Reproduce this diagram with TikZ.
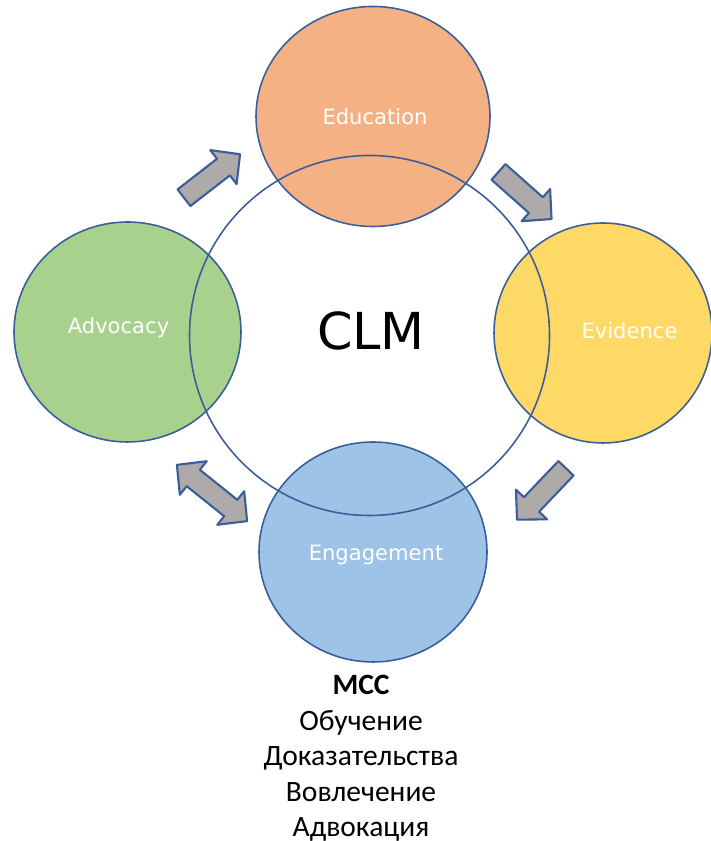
\documentclass[tikz,border=0pt]{standalone}
\usepackage{fontspec}
\setmainfont{Carlito}
\newfontfamily\stagefont{DejaVu Sans}
\usetikzlibrary{shapes.geometric}

\definecolor{ringblue}{HTML}{3B5E9A}
\definecolor{arrowgray}{HTML}{AEAAAA}
\definecolor{educolor}{HTML}{F4B183}
\definecolor{evicolor}{HTML}{FFD966}
\definecolor{advcolor}{HTML}{A9D18E}
\definecolor{engcolor}{HTML}{9DC3E6}

\tikzset{
  stage/.style={ellipse, draw=ringblue, line width=.45pt, minimum height=2.20cm, inner sep=0pt},
  stagelabel/.style={text=white, font=\stagefont\fontsize{6}{7}\selectfont},
  flow/.style={draw=ringblue, line width=.6pt, fill=arrowgray, line join=round}
}

\begin{document}
\begin{tikzpicture}
  \useasboundingbox (0,0) rectangle (7.10,8.41);

  % The four stages round the cycle
  \node [stage, fill=educolor, minimum width=2.34cm] (edu) at (3.73,7.245) {};
  \node [stage, fill=evicolor, minimum width=2.18cm] (evi) at (6.03,5.08) {};
  \node [stage, fill=advcolor, minimum width=2.27cm] (adv) at (1.275,5.09) {};
  \node [stage, fill=engcolor, minimum width=2.28cm] (eng) at (3.73,2.89) {};

  % The big ring in the middle, drawn over the stages
  \node [circle, draw=ringblue, line width=.45pt, minimum size=3.60cm] (clm) at (3.695,5.055) {};
  \node [font=\stagefont\fontsize{14.5}{16}\selectfont] (clm-label) at (3.71,5.10) {CLM};

  % Stage names, shifted a little inside their stages
  \foreach \stg/\dx/\dy/\txt in {edu/0.02/0/Education, evi/0.265/0.02/Evidence,
                                 adv/-0.09/0.04/Advocacy, eng/0.03/-0.03/Engagement} {
    \node [stagelabel, xshift=\dx cm, yshift=\dy cm] (\stg-label) at (\stg) {\txt};
  }

  % One-way arrows
  \foreach \x/\y/\ang in {2.12/6.65/37.8, 5.25/6.455/-41.6, 5.415/3.47/226.4} {
    \draw [flow, shift={(\x,\y)}, rotate=\ang] (-0.355,-0.105) -- (0.145,-0.105) -- (0.145,-0.215)
      -- (0.355,0) -- (0.145,0.215) -- (0.145,0.105) -- (-0.355,0.105) -- cycle;
  }

  % Two-way arrow between Advocacy and Engagement
  \draw [flow, shift={(2.12,3.48)}, rotate=-38.7] (-0.45,0) -- (-0.24,-0.215) -- (-0.24,-0.105)
    -- (0.24,-0.105) -- (0.24,-0.215) -- (0.45,0) -- (0.24,0.215) -- (0.24,0.105)
    -- (-0.24,0.105) -- (-0.24,0.215) -- cycle;

  % Russian caption
  \node [align=center, inner sep=0pt, anchor=north, font=\fontsize{8.4}{10.1}\selectfont] (mcc) at (3.61,1.665)
    {\textbf{МСС}\\Обучение\\Доказательства\\Вовлечение\\Адвокация};
\end{tikzpicture}
\end{document}
